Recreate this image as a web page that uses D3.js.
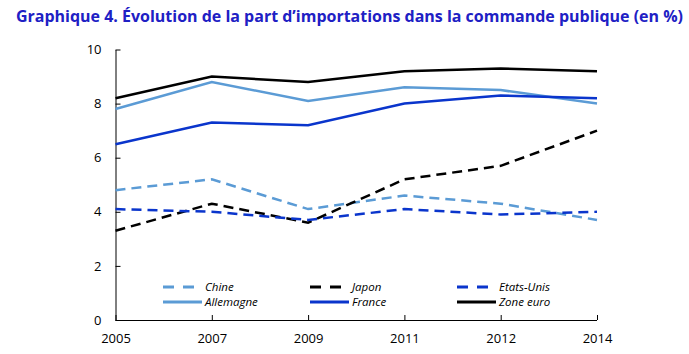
<!DOCTYPE html>
<html>
<head>
<meta charset="utf-8">
<script src="https://cdn.jsdelivr.net/npm/d3@7"></script>
<style>
  body { margin: 0; background: #fff; }
  text { font-family: "Open Sans", "Noto Sans", sans-serif; }
</style>
</head>
<body>
<div id="chart"></div>
<script>
// data
let years = ["2005", "2007", "2009", "2011", "2012", "2014"];
let chine = [4.8, 5.2, 4.1, 4.6, 4.3, 3.7];
let japon = [3.3, 4.3, 3.6, 5.2, 5.7, 7.0];
let etatsUnis = [4.1, 4.0, 3.7, 4.1, 3.9, 4.0];
let allemagne = [7.8, 8.8, 8.1, 8.6, 8.5, 8.0];
let france = [6.5, 7.3, 7.2, 8.0, 8.3, 8.2];
let zoneEuro = [8.2, 9.0, 8.8, 9.2, 9.3, 9.2];
let yTicks = [0, 2, 4, 6, 8, 10];

let series = [
  {name: "Chine", values: chine, color: "#5b9bd5", dashed: true},
  {name: "Japon", values: japon, color: "#000000", dashed: true},
  {name: "Etats-Unis", values: etatsUnis, color: "#0a35cc", dashed: true},
  {name: "Allemagne", values: allemagne, color: "#5b9bd5", dashed: false},
  {name: "France", values: france, color: "#0a35cc", dashed: false},
  {name: "Zone euro", values: zoneEuro, color: "#000000", dashed: false}
];

let W = 689, H = 354;
let svg = d3.select("#chart").append("svg")
    .attr("width", W)
    .attr("height", H);

// title
svg.append("text")
    .attr("x", 16)
    .attr("y", 22)
    .attr("fill", "#2020c4")
    .attr("font-weight", "bold")
    .attr("font-size", 16)
    .attr("textLength", 667)
    .attr("lengthAdjust", "spacingAndGlyphs")
    .text("Graphique 4. Évolution de la part d’importations dans la commande publique (en %)");

let x = d3.scalePoint()
    .domain(years)
    .range([115.5, 597]);

let y = d3.scaleLinear()
    .domain([0, 10])
    .range([320, 49.5]);

// x axis
let xAxis = svg.append("g")
    .attr("transform", "translate(0," + y(0) + ")")
    .call(d3.axisBottom(x).tickSizeInner(-5).tickSizeOuter(0).tickPadding(14));
xAxis.select(".domain").attr("stroke", "#000").attr("d", "M115.5,0.5H597");
xAxis.selectAll(".tick line").attr("stroke", "#000");
xAxis.selectAll(".tick text")
    .attr("font-size", 13)
    .attr("fill", "#000")
    .style("font-family", "'Open Sans', sans-serif");

// y axis
let yAxis = svg.append("g")
    .attr("transform", "translate(" + x(years[0]) + ",0)")
    .call(d3.axisLeft(y).tickValues(yTicks).tickSizeInner(-5).tickSizeOuter(0).tickPadding(14));
yAxis.select(".domain").attr("stroke", "#000");
yAxis.selectAll(".tick line").attr("stroke", "#000");
yAxis.selectAll(".tick text")
    .attr("font-size", 13)
    .attr("fill", "#000")
    .style("font-family", "'Open Sans', sans-serif");

let line = d3.line()
    .x((d, i) => x(years[i]))
    .y(d => y(d));

svg.append("g")
    .selectAll("path")
    .data(series)
    .enter()
    .append("path")
    .attr("d", d => line(d.values))
    .attr("fill", "none")
    .attr("stroke", d => d.color)
    .attr("stroke-width", 2.5)
    .attr("stroke-dasharray", d => d.dashed ? "10,6" : null);

// legend: 3 columns x 2 rows
let legCols = [163, 310, 457];
let legRows = [287, 302];
let legend = svg.append("g")
    .selectAll("g")
    .data(series)
    .enter()
    .append("g")
    .attr("transform", (d, i) => "translate(" + legCols[i % 3] + "," + legRows[Math.floor(i / 3)] + ")");

legend.append("line")
    .attr("x1", 0)
    .attr("x2", 39)
    .attr("stroke", d => d.color)
    .attr("stroke-width", 3)
    .attr("stroke-dasharray", d => d.dashed ? "11,9" : null);

legend.append("text")
    .attr("x", 42)
    .attr("y", 4)
    .attr("font-size", 11.5)
    .attr("font-style", "italic")
    .attr("fill", "#000")
    .text(d => d.name);
</script>
</body>
</html>
